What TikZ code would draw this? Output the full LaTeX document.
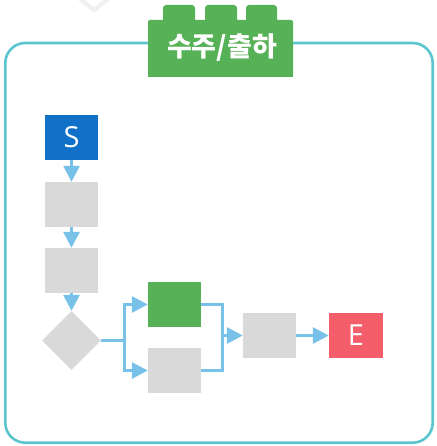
\documentclass[tikz,border=0pt]{standalone}
\usepackage{fontspec}
\setmainfont{Open Sans}
\newfontfamily\kr{Noto Sans CJK KR}
\usetikzlibrary{shapes.geometric,arrows.meta}
\definecolor{sblue}{HTML}{1170C8}
\definecolor{ered}{HTML}{F45E6A}
\definecolor{lgreen}{HTML}{56B157}
\definecolor{lgray}{HTML}{D9D9D9}
\definecolor{ablue}{HTML}{78C2EA}
\definecolor{teal}{HTML}{5BC5CF}
\tikzset{
  box/.style={rectangle, minimum width=53pt, minimum height=45pt, inner sep=0pt, fill=lgray},
  lbl/.style={text=white, font=\fontsize{29}{29}\selectfont},
  conn/.style={draw=ablue, line width=3pt},
  arr/.style={conn, -{Triangle[length=16pt,width=16pt]}},
}
\begin{document}
\begin{tikzpicture}[x=1pt,y=-1pt]
\useasboundingbox (0,0) rectangle (436,446);
% faint shadow at top
\fill[gray!12] (78,0) -- (94,13) -- (110,0) -- cycle;
\fill[white] (85,0) -- (94,7) -- (103,0) -- cycle;
% frame
\draw[teal, line width=2.6pt, rounded corners=20pt] (5.3,43) rectangle (432.7,442.7);
% header block
\fill[lgreen, rounded corners=3pt] (163,5) rectangle (195,24);
\fill[lgreen, rounded corners=3pt] (205,5) rectangle (237,24);
\fill[lgreen, rounded corners=3pt] (246,5) rectangle (277,24);
\fill[lgreen, rounded corners=2pt] (148,20) rectangle (293,77);
\fill[lgreen] (148,40) rectangle (293,77);
\node[text=white, font=\kr\bfseries\fontsize{27}{27}\selectfont, inner sep=0pt] (title) at (222,48) {수주/출하};
% nodes
\node[box, fill=sblue] (S) at (71.5,137.5) {};
\node[lbl] at (S) {S};
\node[box] (B2) at (71.5,204.5) {};
\node[box] (B3) at (71.5,270.5) {};
\node[diamond, fill=lgray, minimum width=59pt, minimum height=59pt, inner sep=0pt] (D) at (71.5,340.5) {};
\node[box, fill=lgreen] (G) at (174.5,304.5) {};
\node[box] (H) at (174.5,370.5) {};
\node[box] (M) at (269.5,335.5) {};
\node[box, fill=ered, minimum width=54pt] (E) at (356,335.5) {};
\node[lbl] at (E) {E};
\coordinate (J1) at (124,340.5);
\coordinate (J2) at (222,335.5);
% connectors
\draw[arr] (S) -- (B2);
\draw[arr] (B2) -- (B3);
\draw[arr] (B3) -- (D);
\draw[conn] (D.east) -- (J1);
\draw[arr] (J1) |- (G.west);
\draw[arr] (J1) |- (H.west);
\draw[conn] (G.east) -| (J2);
\draw[conn] (H.east) -| (J2);
\draw[arr] (J2) -- (M.west);
\draw[arr] (M) -- (E);
\end{tikzpicture}
\end{document}
